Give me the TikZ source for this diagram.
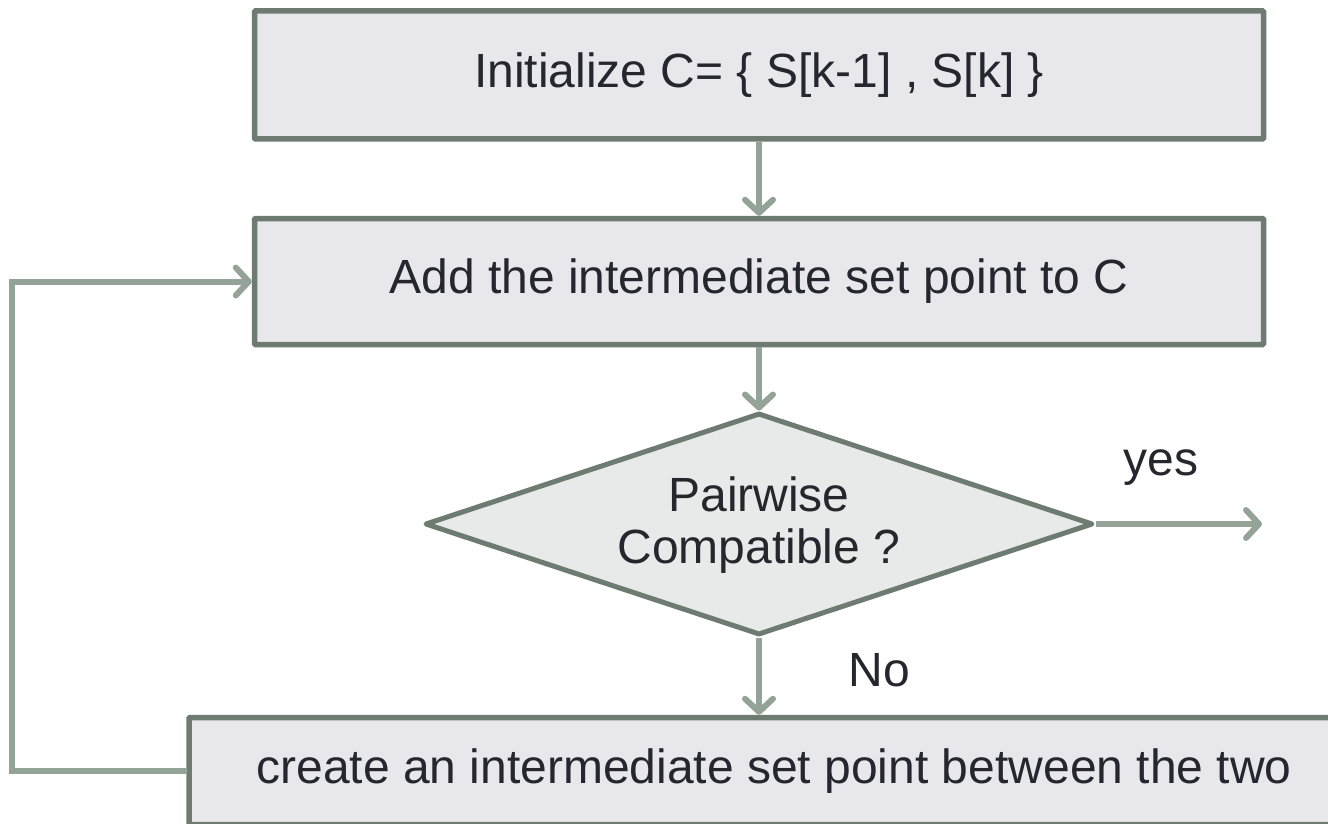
\documentclass[tikz,border=0pt]{standalone}
\usepackage{fontspec}
\setmainfont{Liberation Sans}
\usepackage{tikz}
\usetikzlibrary{positioning,arrows.meta,shapes.geometric}
\definecolor{edge}{HTML}{6E7B71}
\definecolor{flowc}{HTML}{93A398}
\definecolor{boxfill}{HTML}{E8E7EC}
\definecolor{decfill}{HTML}{E8EAE9}
\definecolor{ink}{HTML}{26262E}
\begin{document}
\begin{tikzpicture}[x=1pt, y=-1pt, font=\fontsize{48}{52}\selectfont, text=ink,
  stepbox/.style={rectangle, draw=edge, fill=boxfill, line width=5.5pt, inner sep=0pt, rounded corners=1pt},
  decide/.style={diamond, aspect=3, draw=edge, fill=decfill, line width=5pt, line join=round, inner sep=0pt, align=center},
  flow/.style={draw=flowc, line width=6pt, -{Straight Barb[length=13pt,width=28pt,round]}},
  lbl/.style={anchor=base west}]
\useasboundingbox (0,0) rectangle (1328,824);
\node[stepbox, minimum width=1009pt, minimum height=128pt] (init) at (759,75) {Initialize C= \{ S[k-1] , S[k] \}};
\node[stepbox, minimum width=1009pt, minimum height=126pt] (add) at (759,281.5) {Add the intermediate set point to C};
\node[decide, minimum width=668pt, minimum height=222pt] (pair) at (759,524) {\strut Pairwise\\Compatible ?};
\node[stepbox, minimum width=1170pt, minimum height=107pt] (create) at (774,771) {create an intermediate set point between the two};
\coordinate (exit) at (1262,524);
\draw[flow] (init) -- (add);
\draw[flow] (add) -- (pair);
\draw[flow] (pair.south) -- (pair.south |- create.north);
\draw[flow] (pair.east) -- (exit);
\draw[flow] (create.west) -- ++(-174,0) |- (add.west);
\node[lbl] (yes) at (1120,475) {yes};
\node[lbl] (no) at (845,686) {No};
\end{tikzpicture}
\end{document}
